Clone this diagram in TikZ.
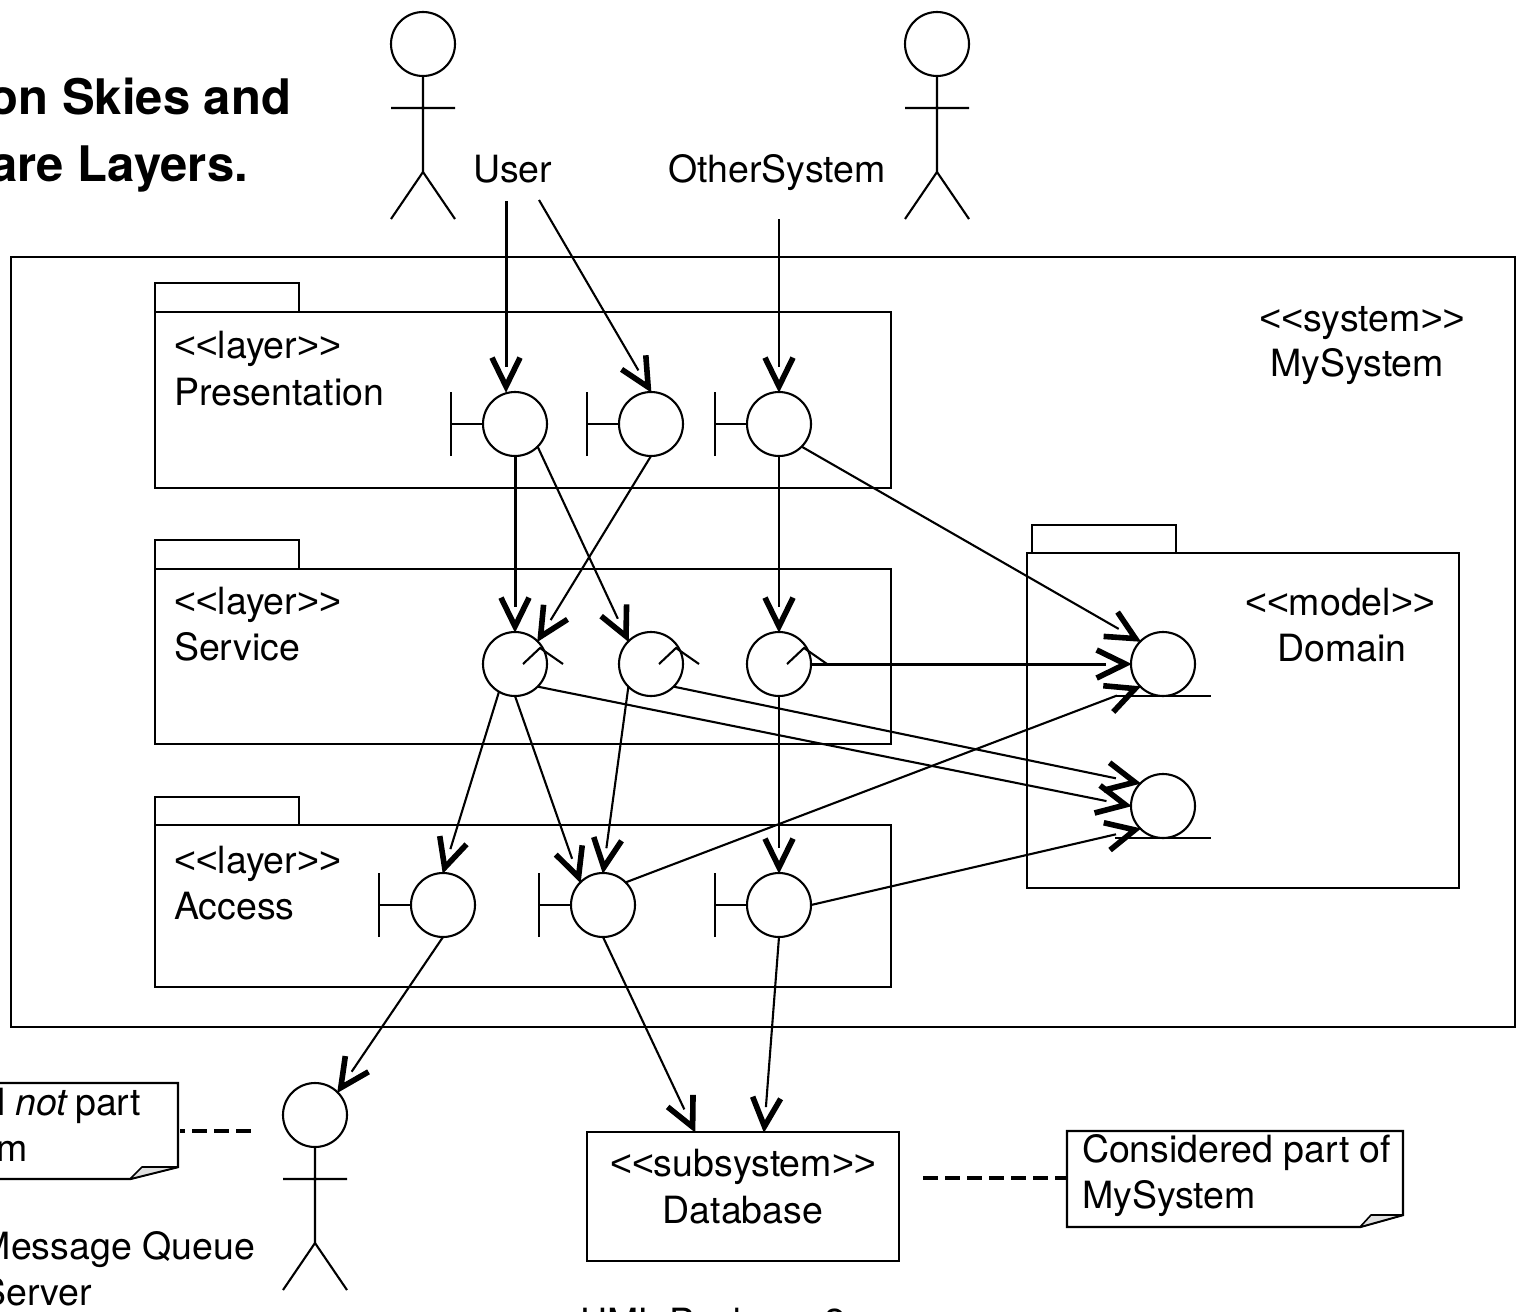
\documentclass[tikz,border=0pt]{standalone}
\usepackage{fontspec}
\usetikzlibrary{calc}
\newfontfamily\uml{TeX Gyre Heros}
\newfontfamily\glyphs{Liberation Sans}
\newcommand{\ol}{{\glyphs<<}}
\newcommand{\cl}{{\glyphs>>}}
\tikzset{
  every node/.style={font=\uml\fontsize{18.75pt}{23pt}\selectfont,inner sep=0pt,outer sep=0pt,text=black},
  ln/.style={line width=1.15pt,line join=miter,line cap=butt},
  wire/.style={line width=1.05pt,shorten >=12.5pt},
  headln/.style={line width=2.8pt,line join=miter,miter limit=10},
  ball/.style={circle,draw,line width=1.05pt,minimum size=32pt},
  lab/.style={anchor=base west},
  labc/.style={anchor=base},
  labe/.style={anchor=base east},
  ttl/.style={anchor=base east,font=\uml\bfseries\fontsize{24.5pt}{34pt}\selectfont},
  dash1/.style={line width=1.9pt,dash pattern=on 7.5pt off 3.5pt},
  foldfill/.style={draw,line width=.8pt,fill=black!12,line join=bevel}
}
\newcommand{\conn}[3][1.05pt]{%
  \draw[wire,line width=#1] (#2) -- (#3);
  \coordinate (tipx) at ($(#3)!2.8pt!(#2)$);
  \draw[headln] ($(tipx)!16pt!26:(#2)$) -- (tipx) -- ($(tipx)!16pt!-26:(#2)$);
}
\newcommand{\ifbar}[1]{\draw[ln,line width=1.05pt] ($(#1.west)+(-32,32)$) -- ($(#1.west)+(-32,-32)$) ($(#1.west)+(-32,0)$) -- (#1.west);}
\newcommand{\ctl}[1]{\draw[ln,line width=1.05pt] ($(#1)+(8,0)$) -- ($(#1)+(25,-16)$) -- ($(#1)+(48,0)$);}
\newcommand{\ent}[1]{\draw[ln,line width=1.05pt] ($(#1.south)+(-48,0)$) -- ($(#1.south)+(48,0)$);}
\newcommand{\stick}[1]{\draw[ln,line width=1.05pt] (#1.south) -- ++(0,96) -- ++(-32,47) ($(#1.south)+(0,96)$) -- ++(32,47) ($(#1.south)+(-32,32)$) -- ++(64,0);}
\begin{document}
\begin{tikzpicture}[x=0.5pt,y=-0.5pt]
\clip (0,0) rectangle (1519,1311);
\fill[white] (0,0) rectangle (1519,1311);

% title
\node[ttl] (t1) at (291,114) {on Skies and};
\node[ttl] (t2) at (248,181) {are Layers.};

% system frame
\draw[ln] (11,257) rectangle (1515,1027);

% packages
\draw[ln] (155,283) rectangle (299,312);
\draw[ln] (155,312) rectangle (891,488);
\draw[ln] (155,540) rectangle (299,569);
\draw[ln] (155,569) rectangle (891,744);
\draw[ln] (155,797) rectangle (299,825);
\draw[ln] (155,825) rectangle (891,987);
\draw[ln] (1032,525) rectangle (1176,553);
\draw[ln] (1027,553) rectangle (1459,888);

% labels
\node[lab] (l1) at (174,358) {\ol layer\cl};
\node[lab] (l1b) at (174,405) {Presentation};
\node[lab] (l2) at (174,614) {\ol layer\cl};
\node[lab] (l2b) at (174,660) {Service};
\node[lab] (l3) at (174,873) {\ol layer\cl};
\node[lab] (l3b) at (174,919) {Access};
\node[labc] (sy1) at (1362,331) {\ol system\cl};
\node[labc] (sy2) at (1357,376) {MySystem};
\node[labc] (mo1) at (1340,615) {\ol model\cl};
\node[labc] (mo2) at (1342,661) {Domain};
\node[lab] (user) at (473,182) {User};
\node[lab] (other) at (668,182) {OtherSystem};

% actors
\node[ball] (act1) at (423,44) {};
\node[ball] (act2) at (937,44) {};
\node[ball] (act3) at (315,1115) {};
\stick{act1}\stick{act2}\stick{act3}

% interfaces
\node[ball] (p1) at (515,424) {};
\node[ball] (p2) at (651,424) {};
\node[ball] (p3) at (779,424) {};
\node[ball] (s1) at (515,664) {};
\node[ball] (s2) at (651,664) {};
\node[ball] (s3) at (779,664) {};
\node[ball] (a1) at (443,905) {};
\node[ball] (a2) at (603,905) {};
\node[ball] (a3) at (779,905) {};
\node[ball] (d1) at (1163,664) {};
\node[ball] (d2) at (1163,806) {};
\ifbar{p1}\ifbar{p2}\ifbar{p3}\ifbar{a1}\ifbar{a2}\ifbar{a3}
\ctl{s1}\ctl{s2}\ctl{s3}
\ent{d1}\ent{d2}

% database
\node[draw,line width=1.15pt,minimum width=156pt,minimum height=64.5pt,anchor=north west] (db) at (587,1132) {};
\node[labc] (db1) at (743,1176) {\ol subsystem\cl};
\node[labc] (db2) at (743,1223) {Database};
\coordinate (dbA) at (695,1132);
\coordinate (dbB) at (764,1132);

% free ends
\coordinate (uA) at (506,201);
\coordinate (uAt) at (506,392);
\coordinate (uB) at (539,200);
\coordinate (oA) at (779,219);

% connectors
\conn[1.5pt]{uA}{uAt}
\conn{uB}{p2.north}
\conn{oA}{p3.north}
\conn[1.5pt]{p1.south}{s1.north}
\conn{p1.-45}{s2.135}
\conn{p2.south}{s1.45}
\conn{p3.south}{s3.north}
\conn{p3.-45}{d1.135}
\conn[1.5pt]{s3.east}{d1.west}
\conn{a2.45}{d1.225}
\conn{s2.-45}{d2.135}
\conn{s1.-45}{d2.west}
\conn{a3.east}{d2.225}
\conn{s1.-120}{a1.north}
\conn{s1.south}{a2.135}
\conn{s2.-135}{a2.north}
\conn{s3.south}{a3.north}
\conn{a1.south}{act3.45}
\conn{a2.south}{dbA}
\conn{a3.south}{dbB}

% note left
\draw[ln] (-20,1083) -- (178,1083) -- (178,1167) -- (130,1179) -- (-20,1179);
\draw[foldfill] (130,1179) -- (142,1167) -- (178,1167) -- cycle;
\node[labe] (n1a) at (141,1115) {l \textit{not}\hspace{-2pt} part};
\node[labe] (n1b) at (28,1161) {m};
\coordinate (n1R) at (180,1131);
\coordinate (n1S) at (251,1131);
\draw[dash1,dash phase=5pt] (n1R) -- (n1S);
\node[labe] (mq1) at (255,1259) {Message Queue};
\node[labe] (mq2) at (92,1305) {Server};

% note right
\draw[ln] (1360,1227) -- (1067,1227) -- (1067,1131) -- (1403,1131) -- (1403,1215) -- cycle;
\draw[foldfill] (1360,1227) -- (1371,1215) -- (1403,1215) -- cycle;
\node[lab] (n2a) at (1082,1162) {Considered part of};
\node[lab] (n2b) at (1082,1208) {MySystem};
\coordinate (n2L) at (1067,1178);
\coordinate (dbR) at (923,1178);
\draw[dash1] (dbR) -- (n2L);

% caption cropped by the page edge
\node[lab] (cap) at (580,1335) {UML Package 2};
\end{tikzpicture}
\end{document}
